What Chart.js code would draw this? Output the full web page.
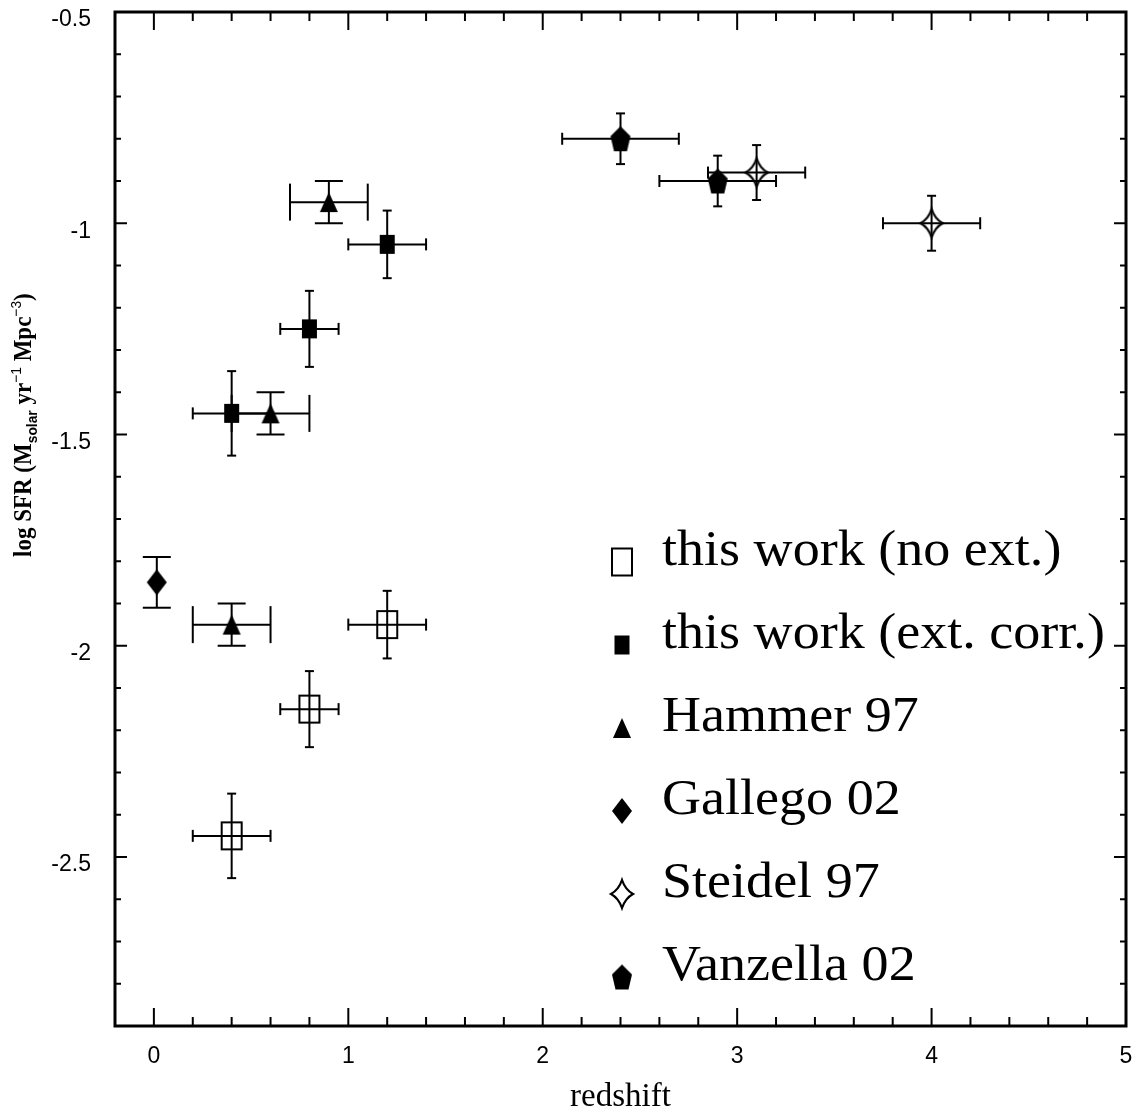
<!DOCTYPE html>
<html>
<head>
<meta charset="utf-8">
<script src="https://cdn.jsdelivr.net/npm/chart.js@4/dist/chart.umd.min.js"></script>
<style>
  html, body { margin: 0; padding: 0; background: #fff; }
  #wrap { width: 1137px; height: 1112px; }
</style>
</head>
<body>
<div id="wrap"><canvas id="c" width="1137" height="1112"></canvas></div>
<script>
// Cosmic star formation rate density: redshift, log SFR and their errors per sample
const noExtZ      = [0.4, 0.8, 1.2];
const noExtSFR    = [-2.45, -2.15, -1.95];
const noExtZErr   = [0.2, 0.15, 0.2];
const noExtSFRErr = [0.1, 0.09, 0.08];

const extZ      = [0.4, 0.8, 1.2];
const extSFR    = [-1.45, -1.25, -1.05];
const extZErr   = [0.2, 0.15, 0.2];
const extSFRErr = [0.1, 0.09, 0.08];

const hammerZ      = [0.4, 0.6, 0.9];
const hammerSFR    = [-1.95, -1.45, -0.95];
const hammerZErr   = [0.2, 0.2, 0.2];
const hammerSFRErr = [0.05, 0.05, 0.05];

const gallegoZ      = [0.015];
const gallegoSFR    = [-1.85];
const gallegoSFRErr = [0.06];

const steidelZ      = [3.1, 4.0];
const steidelSFR    = [-0.88, -1.0];
const steidelZErr   = [0.25, 0.25];
const steidelSFRErr = [0.065, 0.065];

const vanzellaZ      = [2.4, 2.9];
const vanzellaSFR    = [-0.8, -0.9];
const vanzellaZErr   = [0.3, 0.3];
const vanzellaSFRErr = [0.06, 0.06];

const xTickValues = [0, 1, 2, 3, 4, 5];
const yTickValues = [-0.5, -1, -1.5, -2, -2.5];

const seriesLabels = [
  'this work (no ext.)',
  'this work (ext. corr.)',
  'Hammer 97',
  'Gallego 02',
  'Steidel 97',
  'Vanzella 02'
];

// ---------- marker glyphs ----------
function markerCanvas(w, h, paint) {
  const pad = 3;
  const c = document.createElement('canvas');
  c.width = Math.ceil(w + 2 * pad);
  c.height = Math.ceil(h + 2 * pad);
  const g = c.getContext('2d');
  g.translate(c.width / 2, c.height / 2);
  g.fillStyle = '#000';
  g.strokeStyle = '#000';
  g.lineWidth = 2;
  g.lineJoin = 'miter';
  paint(g, w / 2, h / 2);
  return c;
}
function poly(g, pts) {
  g.beginPath();
  g.moveTo(pts[0][0], pts[0][1]);
  for (let i = 1; i < pts.length; i++) g.lineTo(pts[i][0], pts[i][1]);
  g.closePath();
}
const openSquare = markerCanvas(20, 27, (g, a, b) => g.strokeRect(-a, -b, 2 * a, 2 * b));
const filledSquare = markerCanvas(15, 19, (g, a, b) => g.fillRect(-a, -b, 2 * a, 2 * b));
const filledTriangle = markerCanvas(18, 20, (g, a, b) => { poly(g, [[0, -b], [a, b], [-a, b]]); g.fill(); });
const filledDiamond = markerCanvas(20, 26, (g, a, b) => { poly(g, [[0, -b], [a, 0], [0, b], [-a, 0]]); g.fill(); });
const filledPentagon = markerCanvas(20, 25, (g, a, b) => {
  poly(g, [[0, -b], [a, -b * 0.2], [a * 0.65, b], [-a * 0.65, b], [-a, -b * 0.2]]);
  g.fill();
});
// four-pointed open star with slightly concave sides
const openStar = markerCanvas(22, 28, (g, a, b) => {
  const ix = a * 0.4, iy = b * 0.4;
  const tips = [[0, -b], [a, 0], [0, b], [-a, 0]];
  const inner = [[ix, -iy], [ix, iy], [-ix, iy], [-ix, -iy]];
  g.beginPath();
  g.moveTo(tips[0][0], tips[0][1]);
  for (let k = 0; k < 4; k++) {
    const t0 = tips[k], t1 = tips[(k + 1) % 4], m = inner[k];
    g.quadraticCurveTo((t0[0] + m[0]) / 2 - m[0] * 0.12, (t0[1] + m[1]) / 2 - m[1] * 0.12, m[0], m[1]);
    g.quadraticCurveTo((t1[0] + m[0]) / 2 - m[0] * 0.12, (t1[1] + m[1]) / 2 - m[1] * 0.12, t1[0], t1[1]);
  }
  g.closePath();
  g.lineWidth = 2.2;
  g.stroke();
});

function points(xs, ys) { return xs.map((v, i) => ({ x: v, y: ys[i] })); }

// ---------- error bars, frame, ticks, legend and axis titles ----------
const decor = {
  id: 'decor',
  beforeDatasetsDraw(chart) {
    const { ctx, scales: { x, y } } = chart;
    ctx.save();
    ctx.strokeStyle = '#000';
    ctx.lineWidth = 2;
    ctx.lineCap = 'butt';
    const seg = (x0, y0, x1, y1) => { ctx.beginPath(); ctx.moveTo(x0, y0); ctx.lineTo(x1, y1); ctx.stroke(); };
    chart.data.datasets.forEach((ds, di) => {
      const meta = chart.getDatasetMeta(di);
      ds.data.forEach((p, i) => {
        const el = meta.data[i];
        const px = el.x, py = el.y;
        if (ds.errX) {
          const x0 = x.getPixelForValue(p.x - ds.errX[i]);
          const x1 = x.getPixelForValue(p.x + ds.errX[i]);
          seg(x0, py, x1, py);
          seg(x0, py - ds.capX, x0, py + ds.capX);
          seg(x1, py - ds.capX, x1, py + ds.capX);
        }
        if (ds.errY) {
          const y0 = y.getPixelForValue(p.y - ds.errY[i]);
          const y1 = y.getPixelForValue(p.y + ds.errY[i]);
          seg(px, y0, px, y1);
          seg(px - ds.capY, y0, px + ds.capY, y0);
          seg(px - ds.capY, y1, px + ds.capY, y1);
        }
      });
    });
    ctx.restore();
  },
  afterDraw(chart) {
    const { ctx, chartArea: a, scales: { x, y } } = chart;
    ctx.save();
    ctx.strokeStyle = '#000';
    ctx.fillStyle = '#000';

    // inward ticks on all four sides
    ctx.lineWidth = 2;
    const seg = (x0, y0, x1, y1) => { ctx.beginPath(); ctx.moveTo(x0, y0); ctx.lineTo(x1, y1); ctx.stroke(); };
    for (let k = -1; k <= 25; k++) {
      const v = k / 5;
      if (v <= x.min || v >= x.max) continue;
      const px = x.getPixelForValue(v);
      const len = (k % 5 === 0) ? 18 : 9;
      seg(px, a.bottom, px, a.bottom - len);
      seg(px, a.top, px, a.top + len);
    }
    for (let k = -29; k <= -5; k++) {
      const v = k / 10;
      if (v <= y.min || v >= y.max) continue;
      const py = y.getPixelForValue(v);
      const len = (k % 5 === 0) ? 12 : 6;
      seg(a.left, py, a.left + len, py);
      seg(a.right, py, a.right - len, py);
    }

    // frame
    ctx.lineWidth = 3;
    ctx.strokeRect(a.left, a.top, a.right - a.left, a.bottom - a.top);

    // legend
    const rowBase = 565, rowStep = 83;
    ctx.textBaseline = 'alphabetic';
    ctx.textAlign = 'left';
    ctx.font = '51px "Liberation Serif"';
    chart.data.datasets.forEach((ds, i) => {
      const base = rowBase + i * rowStep;
      const m = ds.pointStyle;
      ctx.drawImage(m, 622 - m.width / 2, base - 3 - m.height / 2);
      ctx.save();
      ctx.translate(662, base);
      ctx.scale(1.06, 1);
      ctx.fillText(ds.label, 0, 0);
      ctx.restore();
    });

    // x-axis title
    ctx.font = '33px "Liberation Serif"';
    ctx.textAlign = 'center';
    ctx.fillText('redshift', (a.left + a.right) / 2, 1106);

    // y-axis title with subscript and superscripts
    const pieces = [
      { t: 'log SFR (', f: 'bold 25px "Liberation Serif"', dy: 0 },
      { t: 'M', f: 'bold 25px "Liberation Serif"', dy: 0 },
      { t: 'solar', f: 'bold 15px "Liberation Sans"', dy: 6 },
      { t: ' yr', f: 'bold 25px "Liberation Serif"', dy: 0 },
      { t: '\u22121', f: '15px "Liberation Sans"', dy: -10 },
      { t: ' Mpc', f: 'bold 25px "Liberation Serif"', dy: 0 },
      { t: '\u22123', f: '15px "Liberation Sans"', dy: -10 },
      { t: ')', f: 'bold 25px "Liberation Serif"', dy: 0 }
    ];
    ctx.save();
    ctx.translate(31, 557);
    ctx.rotate(-Math.PI / 2);
    ctx.scale(0.92, 1);
    ctx.textAlign = 'left';
    let cx = 0;
    pieces.forEach(p => {
      ctx.font = p.f;
      ctx.fillText(p.t, cx, p.dy);
      cx += ctx.measureText(p.t).width;
    });
    ctx.restore();

    ctx.restore();
  }
};

const tickFont = { family: '"Liberation Sans"', size: 23 };

new Chart(document.getElementById('c'), {
  type: 'scatter',
  data: {
    datasets: [
      { label: seriesLabels[0], data: points(noExtZ, noExtSFR), pointStyle: openSquare,
        errX: noExtZErr, errY: noExtSFRErr, capX: 6, capY: 4.5 },
      { label: seriesLabels[1], data: points(extZ, extSFR), pointStyle: filledSquare,
        errX: extZErr, errY: extSFRErr, capX: 6, capY: 4.5 },
      { label: seriesLabels[2], data: points(hammerZ, hammerSFR), pointStyle: filledTriangle,
        errX: hammerZErr, errY: hammerSFRErr, capX: 18.5, capY: 14 },
      { label: seriesLabels[3], data: points(gallegoZ, gallegoSFR), pointStyle: filledDiamond,
        errX: null, errY: gallegoSFRErr, capX: 0, capY: 14 },
      { label: seriesLabels[4], data: points(steidelZ, steidelSFR), pointStyle: openStar,
        errX: steidelZErr, errY: steidelSFRErr, capX: 6, capY: 4.5 },
      { label: seriesLabels[5], data: points(vanzellaZ, vanzellaSFR), pointStyle: filledPentagon,
        errX: vanzellaZErr, errY: vanzellaSFRErr, capX: 6, capY: 4.5 }
    ]
  },
  options: {
    responsive: false,
    animation: false,
    events: [],
    layout: { padding: { left: 0, top: 12, right: 8, bottom: 0 } },
    elements: { point: { radius: 10, hoverRadius: 10 } },
    plugins: { legend: { display: false }, tooltip: { enabled: false } },
    scales: {
      x: {
        type: 'linear', min: -0.2, max: 5,
        grid: { display: false, drawTicks: false },
        border: { display: false },
        ticks: { font: tickFont, color: '#000', padding: 17, maxRotation: 0, autoSkip: false,
                 callback: v => String(v) },
        afterBuildTicks: s => { s.ticks = xTickValues.map(v => ({ value: v })); },
        afterFit: s => { s.height = 86; s.paddingLeft = 0; s.paddingRight = 0; s.paddingTop = 0; s.paddingBottom = 0; }
      },
      y: {
        type: 'linear', min: -2.9, max: -0.5,
        grid: { display: false, drawTicks: false },
        border: { display: false },
        ticks: { font: tickFont, color: '#000', padding: 24, labelOffset: 8, autoSkip: false,
                 callback: v => String(v) },
        afterBuildTicks: s => { s.ticks = yTickValues.map(v => ({ value: v })); },
        afterFit: s => { s.width = 115; s.paddingLeft = 0; s.paddingRight = 0; s.paddingTop = 0; s.paddingBottom = 0; }
      }
    }
  },
  plugins: [decor]
});
</script>
</body>
</html>
